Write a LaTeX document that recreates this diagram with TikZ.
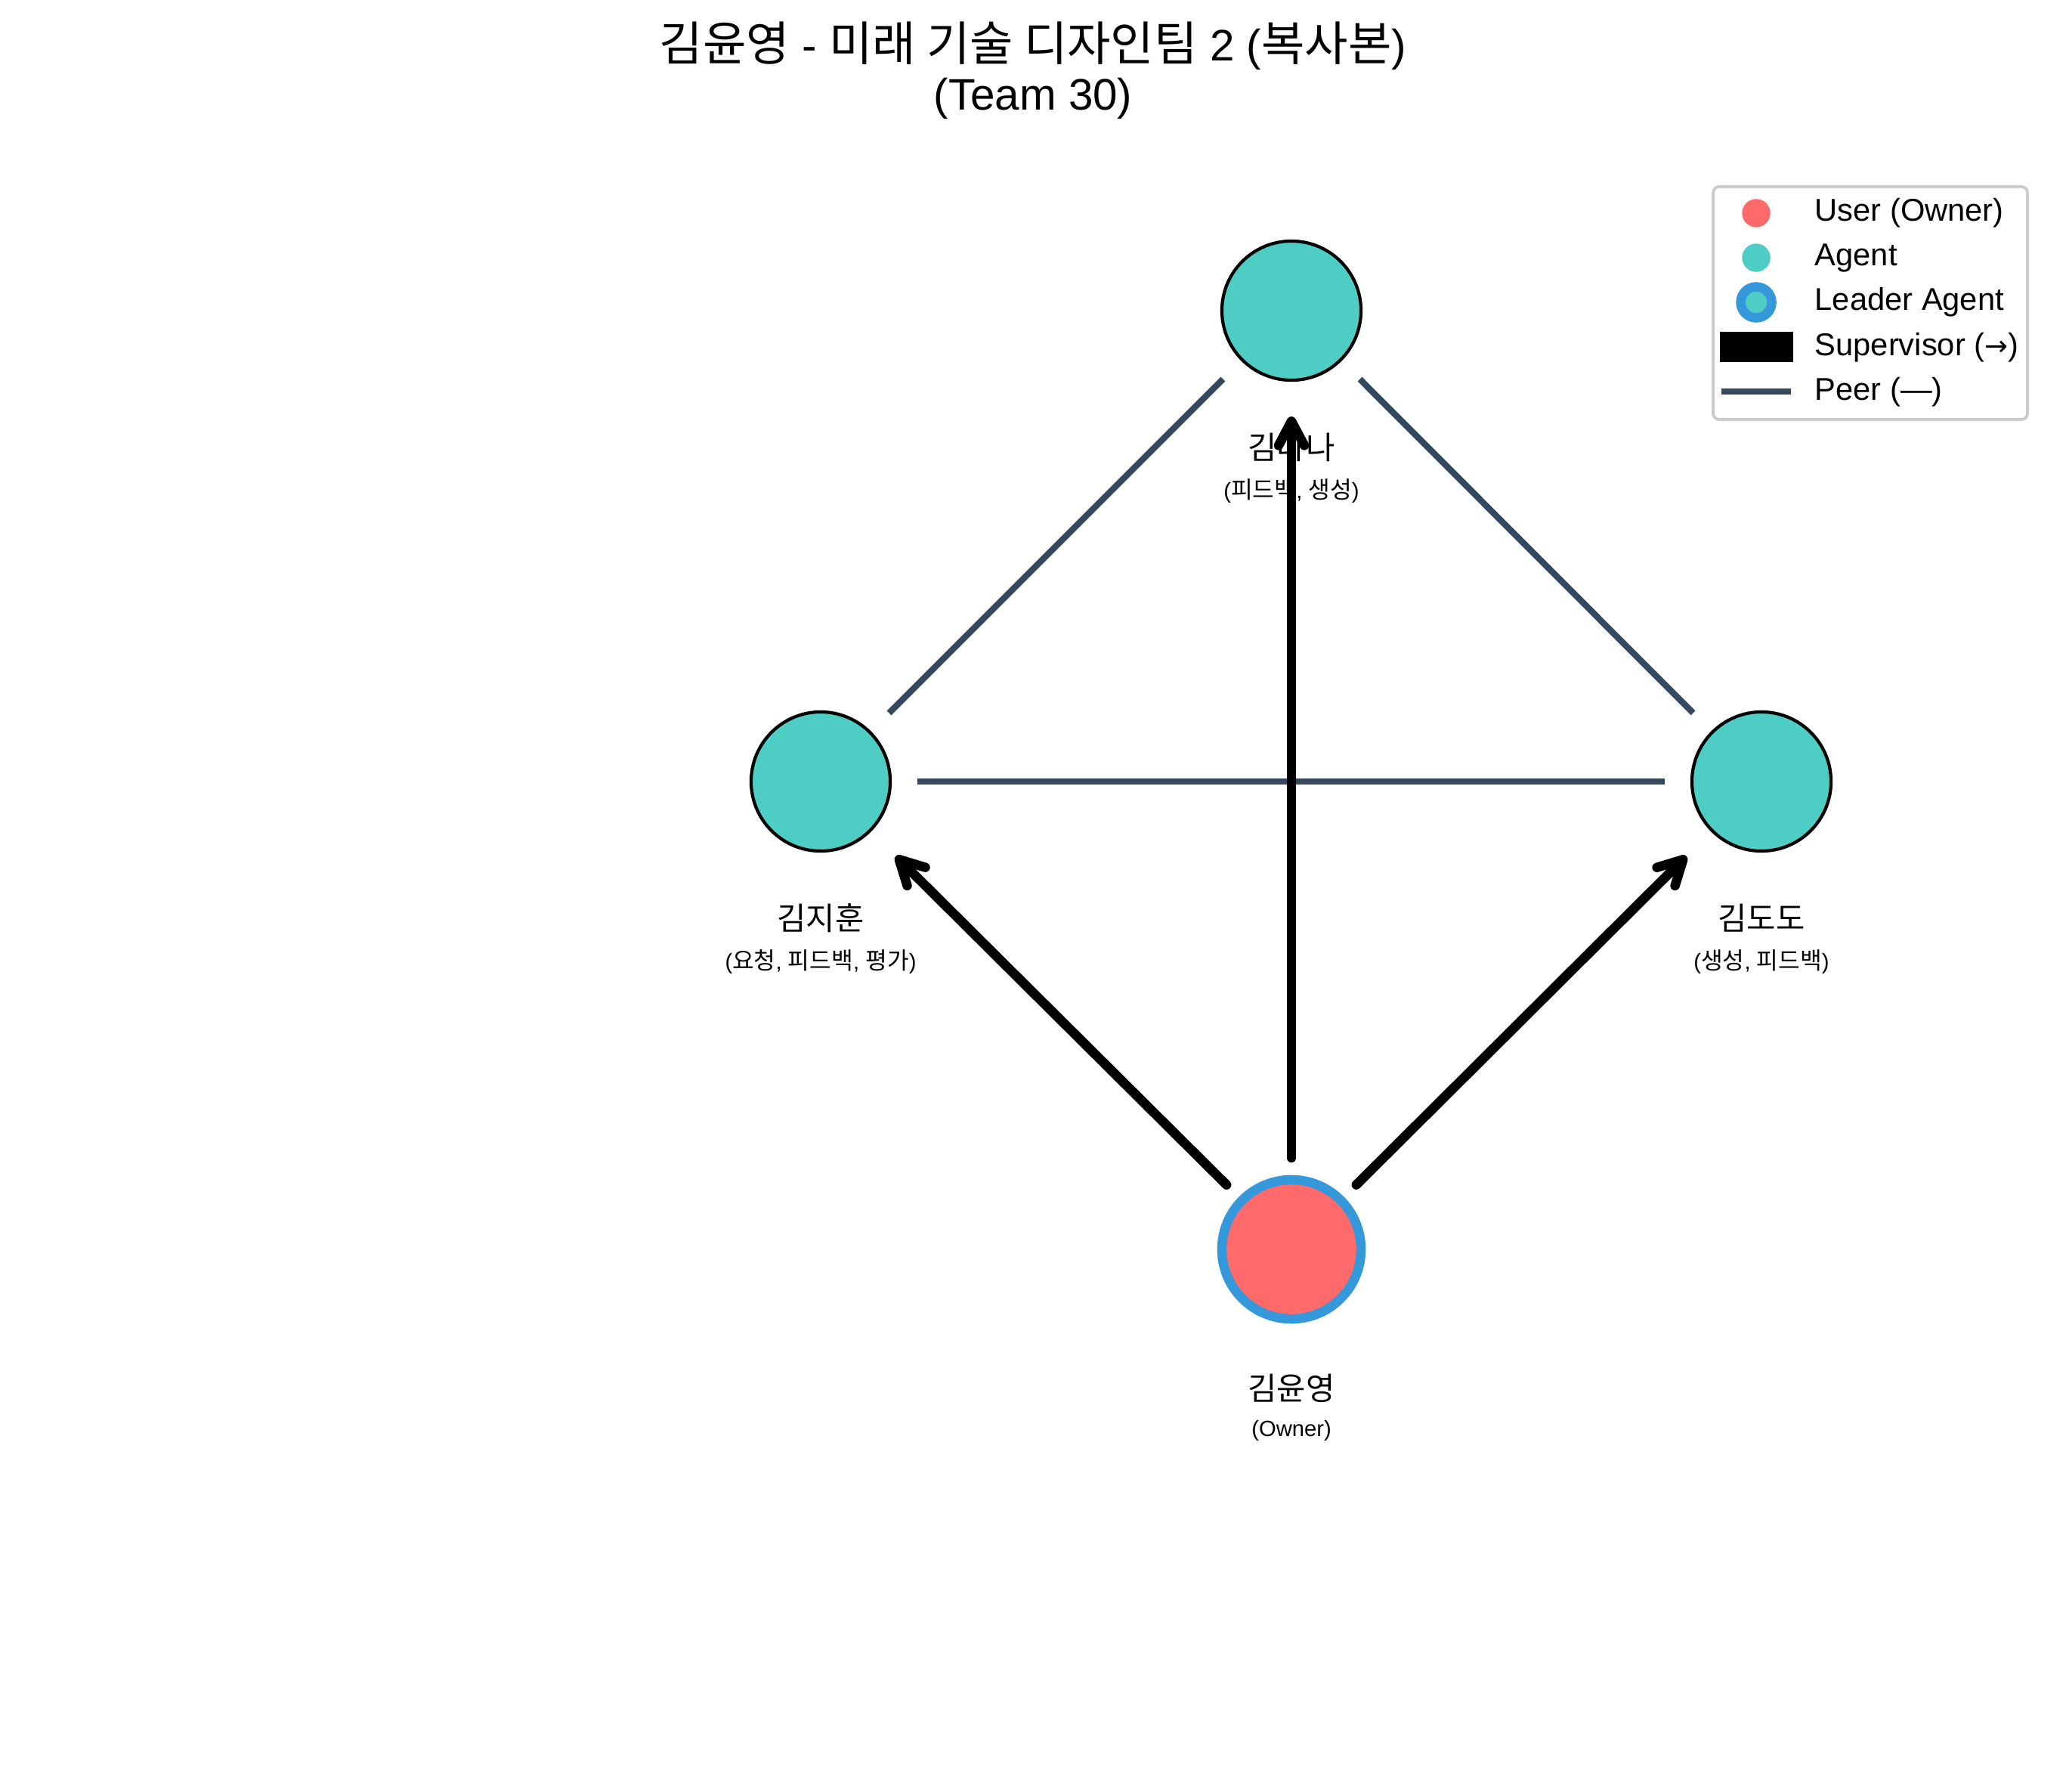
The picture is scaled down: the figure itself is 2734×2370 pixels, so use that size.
\documentclass[tikz,border=0pt]{standalone}
\usepackage{fontspec}
\setmainfont{Liberation Sans}
\newfontfamily\kr{Noto Sans CJK KR}
\newfontfamily\krw{Noto Sans CJK KR}[Scale=1.07]
\newfontfamily\dv{DejaVu Sans}
\usetikzlibrary{arrows.meta}
\definecolor{agentc}{HTML}{4ECDC4}
\definecolor{userc}{HTML}{FF6B6B}
\definecolor{leadc}{HTML}{3498DB}
\definecolor{peerc}{HTML}{34495E}
\definecolor{framec}{HTML}{CCCCCC}
\begin{document}
\begin{tikzpicture}[x=0.01cm,y=-0.01cm,
  agent/.style={circle,minimum size=1.84cm,inner sep=0pt,outer sep=0pt,fill=agentc,draw=black,line width=0.042cm},
  owner/.style={circle,minimum size=1.84cm,inner sep=0pt,outer sep=0pt,fill=userc,draw=leadc,line width=0.125cm},
  namelab/.style={inner sep=0pt,font=\kr\fontsize{11.85}{14}\selectfont},
  sublab/.style={inner sep=0pt,font=\fontsize{8.3}{10}\selectfont},
  peer/.style={draw=peerc,line width=0.083cm,shorten <=0.36cm,shorten >=0.36cm},
  sup/.style={draw=black,line width=0.125cm,line cap=round,shorten <=0.29cm,shorten >=0.48cm,
    -{Straight Barb[length=0.32cm,width=0.34cm,round]}},
  legtext/.style={anchor=west,inner sep=0pt,font=\fontsize{11.85}{14}\selectfont},
]
\useasboundingbox (0,0) rectangle (2734,2370);

% title
\node[align=center,inner sep=0pt,font=\fontsize{16.6}{18.6}\selectfont] (title) at (1367,93)
  {{\krw 김윤영} - {\krw 미래 기술 디자인팀} 2 ({\krw 복사본})\\(Team 30)};

% nodes
\node[agent] (nana) at (1709,411) {};
\node[agent] (jihun) at (1086,1034) {};
\node[agent] (dodo) at (2331,1034) {};
\node[owner] (own) at (1709,1653) {};

% labels
\node[namelab] (nanaL) at (1709,592) {김나나};
\node[sublab] (nanaS) at (1709,650) {({\krw 피드백}, {\krw 생성})};
\node[namelab] (jihunL) at (1086,1215) {김지훈};
\node[sublab] (jihunS) at (1086,1273) {({\krw 요청}, {\krw 피드백}, {\krw 평가})};
\node[namelab] (dodoL) at (2331,1215) {김도도};
\node[sublab] (dodoS) at (2331,1273) {({\krw 생성}, {\krw 피드백})};
\node[namelab] (ownL) at (1709,1837) {김윤영};
\node[sublab] (ownS) at (1709,1893) {(Owner)};

% peer lines
\draw[peer] (jihun) -- (nana);
\draw[peer] (nana) -- (dodo);
\draw[peer] (jihun) -- (dodo);

% supervisor arrows
\draw[sup] (own) -- (jihun);
\draw[sup] (own) -- (nana);
\draw[sup] (own) -- (dodo);

% legend
\draw[framec,line width=0.04cm,fill=white,rounded corners=0.08cm] (2267,247) rectangle (2683,555);
\node[circle,fill=userc,inner sep=0pt,minimum size=0.374cm] (lu) at (2324,282) {};
\node[legtext] (lut) at (2401,282) {User (Owner)};
\node[circle,fill=agentc,inner sep=0pt,minimum size=0.374cm] (la) at (2324,341) {};
\node[legtext] (lat) at (2401,341) {Agent};
\node[circle,fill=agentc,draw=leadc,line width=0.125cm,inner sep=0pt,minimum size=0.41cm] (ll) at (2324,400) {};
\node[legtext] (llt) at (2401,400) {Leader Agent};
\fill[black] (2276,439) rectangle (2373,479);
\coordinate (ls) at (2324,459);
\node[legtext] (lst) at (2401,460) {Supervisor ({\dv\fontsize{10.5}{12}\selectfont →})};
\coordinate (lp1) at (2278,518);
\coordinate (lp2) at (2370,518);
\draw[peerc,line width=0.083cm] (lp1) -- (lp2);
\node[legtext] (lpt) at (2401,519) {Peer (—)};
\end{tikzpicture}
\end{document}
